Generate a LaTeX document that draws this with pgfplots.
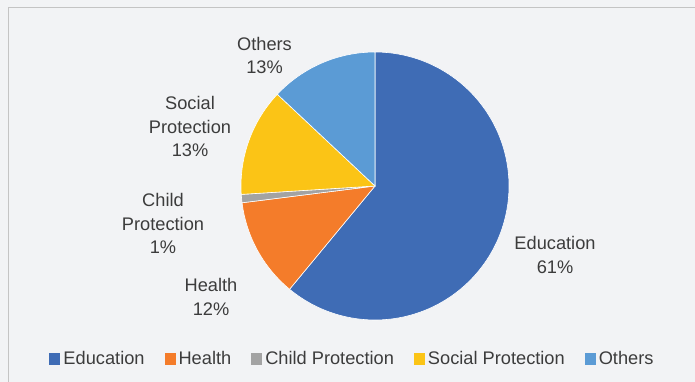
\documentclass[border=0pt]{standalone}
\usepackage{fontspec}
\setmainfont{Liberation Sans}
\usepackage{pgfplots}
\pgfplotsset{compat=1.18}
\definecolor{bgc}{HTML}{F2F3F5}
\definecolor{frame}{HTML}{C4C4C4}
\definecolor{txt}{HTML}{3C3C3C}
\definecolor{cEdu}{HTML}{3F6CB5}
\definecolor{cHea}{HTML}{F47C2A}
\definecolor{cChi}{HTML}{A3A3A3}
\definecolor{cSoc}{HTML}{FBC416}
\definecolor{cOth}{HTML}{5B9BD5}
% shares in percent
\def\vEdu{61}
\def\vHea{12}
\def\vChi{1}
\def\vSoc{13}
\def\vOth{13}
\begin{document}
\begin{tikzpicture}
\pgfmathsetmacro{\aA}{90}
\pgfmathsetmacro{\aB}{\aA-3.6*\vEdu}
\pgfmathsetmacro{\aC}{\aB-3.6*\vHea}
\pgfmathsetmacro{\aD}{\aC-3.6*\vChi}
\pgfmathsetmacro{\aE}{\aD-3.6*\vSoc}
\pgfmathsetmacro{\aF}{\aE-3.6*\vOth}
\fill[bgc] (0,0) rectangle (695bp,382bp);
\useasboundingbox (0,0) rectangle (695bp,382bp);
\begin{axis}[
  at={(0,0)}, anchor=south west,
  width=695bp, height=382bp, scale only axis,
  xmin=0, xmax=695, ymin=0, ymax=382,
  hide axis, clip=false,
  font=\fontsize{18.3}{24}\selectfont,
  legend columns=-1,
  legend image code/.code={\fill[#1, draw=none] (0bp,-5.5bp) rectangle (11bp,5.5bp);},
  legend style={at={(axis cs:351.5,23)}, anchor=center, draw=none, fill=none,
    text=txt, inner sep=0pt, outer sep=0pt,
    nodes={inner sep=0pt, text=txt},
    /tikz/every odd column/.append style={column sep=3bp},
    /tikz/every even column/.append style={column sep=20bp}},
]
\addplot[fill=cEdu, draw=white, line width=0.6pt, domain=\aB:\aA, samples=120, variable=\t]
  ({375+134*cos(\t)},{196+134*sin(\t)}) -- (axis cs:375,196) -- cycle;
\addlegendentry{Education}
\addplot[fill=cHea, draw=white, line width=0.6pt, domain=\aC:\aB, samples=40, variable=\t]
  ({375+134*cos(\t)},{196+134*sin(\t)}) -- (axis cs:375,196) -- cycle;
\addlegendentry{Health}
\addplot[fill=cChi, draw=white, line width=0.6pt, domain=\aD:\aC, samples=6, variable=\t]
  ({375+134*cos(\t)},{196+134*sin(\t)}) -- (axis cs:375,196) -- cycle;
\addlegendentry{Child Protection}
\addplot[fill=cSoc, draw=white, line width=0.6pt, domain=\aE:\aD, samples=40, variable=\t]
  ({375+134*cos(\t)},{196+134*sin(\t)}) -- (axis cs:375,196) -- cycle;
\addlegendentry{Social Protection}
\addplot[fill=cOth, draw=white, line width=0.6pt, domain=\aF:\aE, samples=40, variable=\t]
  ({375+134*cos(\t)},{196+134*sin(\t)}) -- (axis cs:375,196) -- cycle;
\addlegendentry{Others}
\begin{scope}[every node/.style={align=center, text=txt, inner sep=0pt, font=\fontsize{18.3}{24}\selectfont}]
\node at (axis cs:264.5,326.5) {Others\\13\%};
\node at (axis cs:190,255.5) {Social\\Protection\\13\%};
\node at (axis cs:163,158.5) {Child\\Protection\\1\%};
\node at (axis cs:211,85.5) {Health\\12\%};
\node at (axis cs:555,127) {Education\\61\%};
\end{scope}
\draw[frame, line width=1pt] (axis cs:8,0) -- (axis cs:8,374) -- (axis cs:695,374);
\end{axis}
\end{tikzpicture}
\end{document}
